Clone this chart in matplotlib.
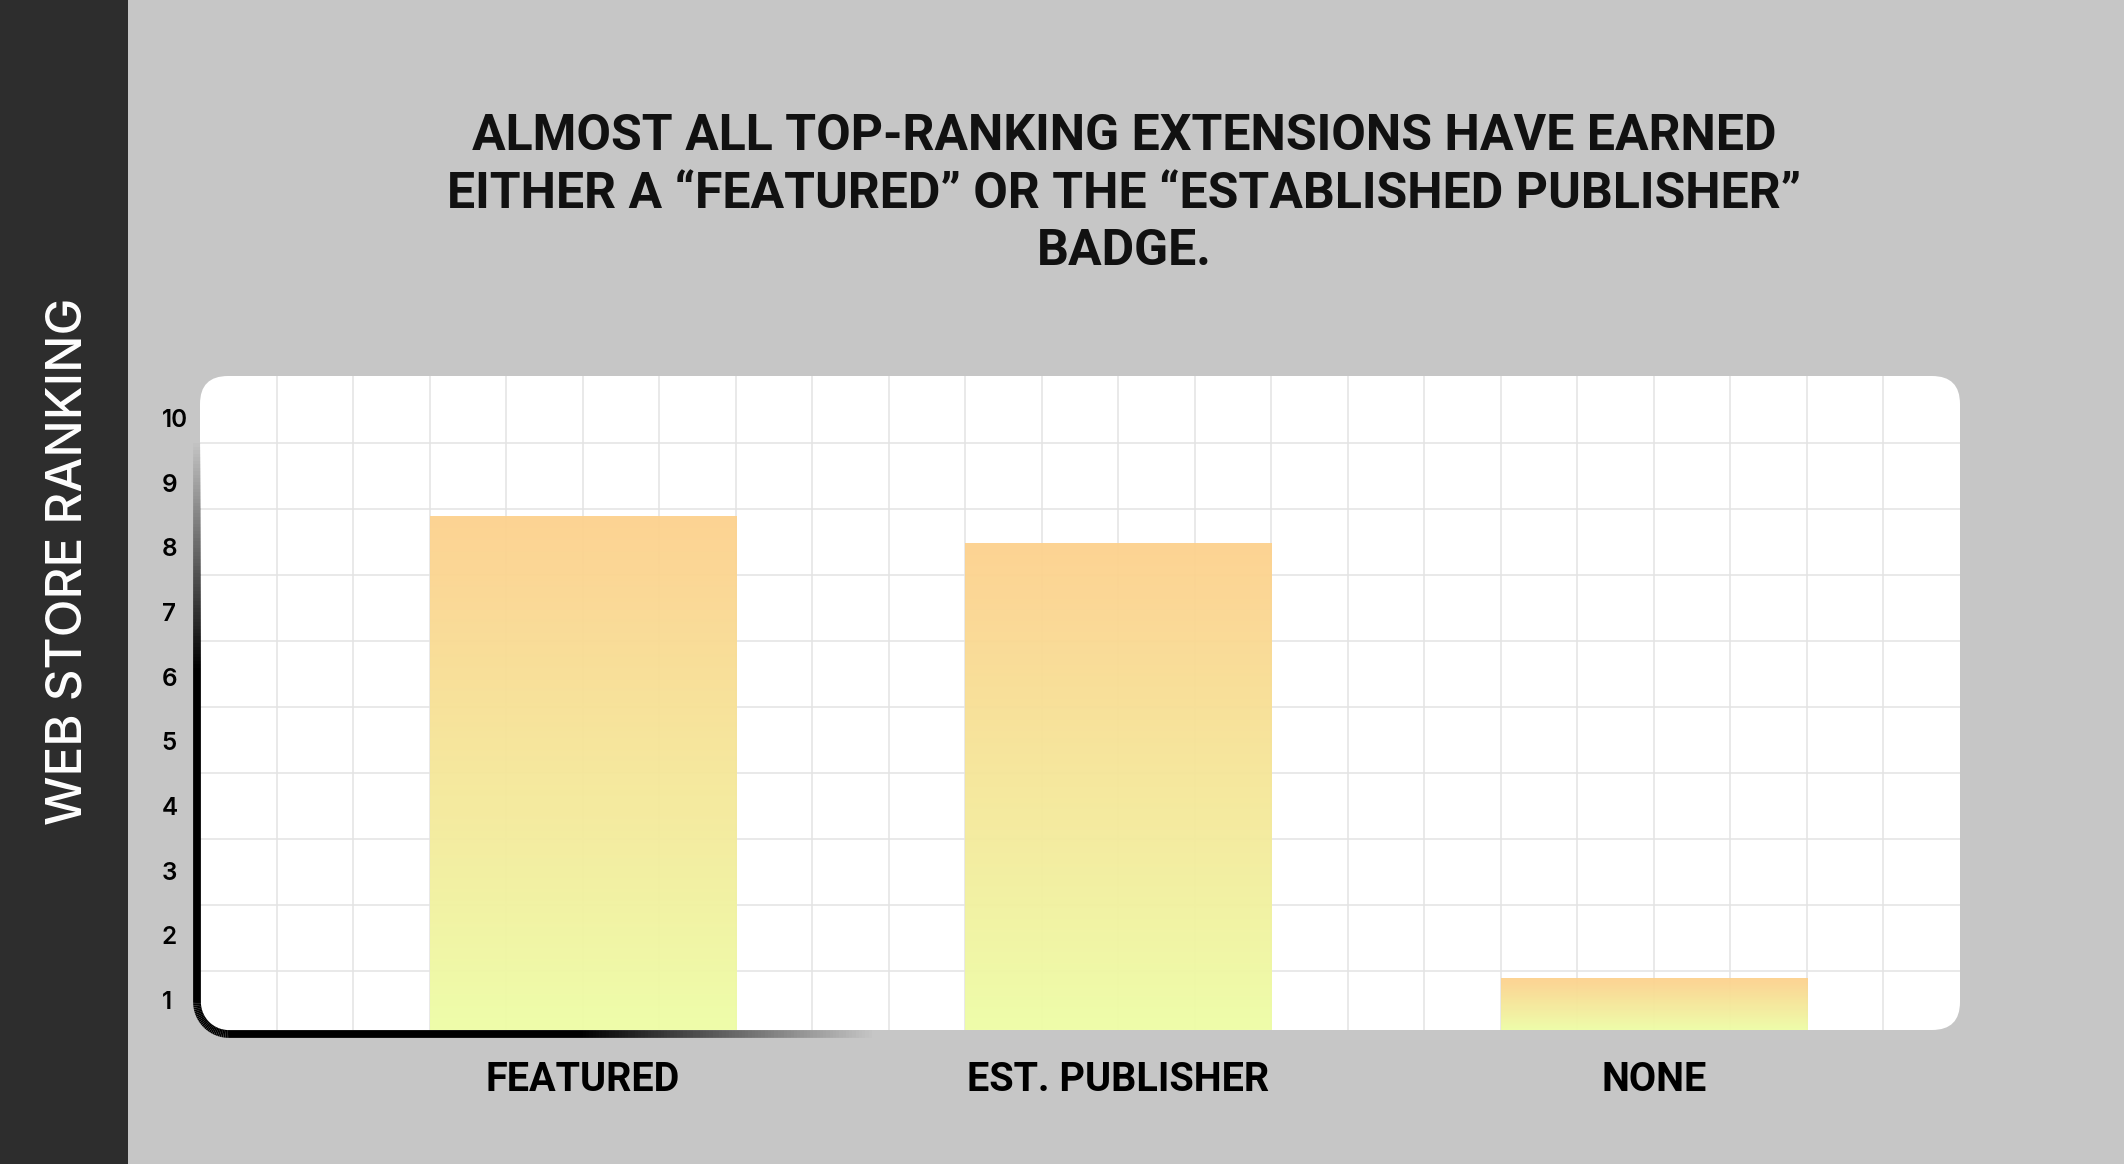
import numpy as np
import matplotlib
matplotlib.use("Agg")
import matplotlib.pyplot as plt
from matplotlib.patches import FancyBboxPatch, Rectangle
from matplotlib.collections import LineCollection
from matplotlib.colors import LinearSegmentedColormap

# data
categories = ["FEATURED", "EST. PUBLISHER", "NONE"]
ranking = [8.48, 8.06, 1.34]
tick_values = [1, 2, 3, 4, 5, 6, 7, 8, 9, 10]

title = ("ALMOST ALL TOP-RANKING EXTENSIONS HAVE EARNED\n"
         "EITHER A \u201cFEATURED\u201d OR THE \u201cESTABLISHED PUBLISHER\u201d\n"
         "BADGE.")
ylabel = "WEB STORE RANKING"

W, H = 2124, 1164
fig = plt.figure(figsize=(W / 100, H / 100), dpi=100, facecolor="#c6c6c6")

# background layer in pixel coords
bg = fig.add_axes([0, 0, 1, 1], zorder=0)
bg.set_xlim(0, W)
bg.set_ylim(H, 0)
bg.axis("off")
bg.add_patch(Rectangle((0, 0), 128, H, color="#2d2d2d", lw=0))
bg.add_patch(FancyBboxPatch((200, 376), 1760, 654,
                            boxstyle="round,pad=0,rounding_size=28",
                            fc="white", ec="none"))
bg.text(69, 561, ylabel, rotation=90, color="white", ha="center", va="center",
        fontsize=35.5, family="Inter", fontweight="medium")
bg.text(1124, 194, title, ha="center", va="center", fontsize=36,
        family="Roboto", fontweight="bold", linespacing=1.29, color="#111111")

# main chart axes over the white panel
ax = fig.add_axes([200 / W, (H - 1030) / H, 1760 / W, 654 / H], zorder=1)
ax.set_facecolor("none")
for s in ax.spines.values():
    s.set_visible(False)

# grid
for k in range(1, 23):
    ax.axvline(k, color="#e3e3e3", lw=1.1, zorder=0.5)
for k in range(9):
    yf = (1030 - (443 + 66 * k)) / 654
    ax.hlines(yf, 0, 1, transform=ax.transAxes, color="#e3e3e3", lw=1.1, zorder=0.5)

# gradient bars
cmap = LinearSegmentedColormap.from_list("barfade", ["#eefda6", "#fdd18e"])
grad = np.linspace(0, 1, 256).reshape(-1, 1)
centers = [5, 12, 19]
y0 = 0.536
bars = ax.bar(centers, [r - y0 for r in ranking], bottom=y0, width=4,
              color="none", edgecolor="none")
for b in bars:
    x, y = b.get_x(), b.get_y()
    im = ax.imshow(grad, cmap=cmap, origin="lower", aspect="auto", alpha=0.96,
                   extent=(x, x + b.get_width(), y, y + b.get_height()), zorder=2)
    im.set_clip_path(b)
ax.set_xlim(0, 23)
ax.set_ylim(0.536, 10.649)

ax.set_yticks(tick_values)
ax.set_yticklabels([str(v) for v in tick_values], ha="left", fontsize=17.5,
                   family="Inter", fontweight="semibold")
ax.tick_params(axis="y", length=0, pad=27.5)
ax.set_xticks(centers)
ax.set_xticklabels(categories, fontsize=28.5, family="Roboto", fontweight="bold")
ax.tick_params(axis="x", length=0, pad=22.5)

# fading L-shaped axis line
top = fig.add_axes([0, 0, 1, 1], zorder=3)
top.set_xlim(0, W)
top.set_ylim(H, 0)
top.axis("off")
r = 32
xv, yb = 197, 1034
pts = []
alph = []
for yy in np.linspace(443, yb - r, 160):
    pts.append((xv, yy))
    alph.append(np.clip((yy - 443) / (670 - 443), 0, 1))
for t in np.linspace(np.pi, np.pi / 2, 30)[1:]:
    pts.append((xv + r + r * np.cos(t), yb - r + r * np.sin(t)))
    alph.append(1.0)
for xx in np.linspace(xv + r, 875, 200)[1:]:
    pts.append((xx, yb))
    alph.append(np.clip(1 - (xx - 584) / (875 - 584), 0, 1))
pts = np.array(pts)
segs = np.stack([pts[:-1], pts[1:]], axis=1)
cols = [(0, 0, 0, a) for a in alph[1:]]
top.add_collection(LineCollection(segs, colors=cols, linewidths=5.6, capstyle="butt"))

fig.savefig("out.png", dpi=100, facecolor=fig.get_facecolor())
